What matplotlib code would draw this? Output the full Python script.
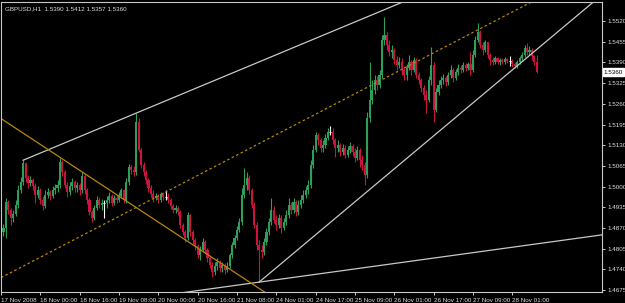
import numpy as np
import matplotlib
matplotlib.use("Agg")
import matplotlib.pyplot as plt

# GBPUSD H1, 17 Nov 2008 08:00 .. 28 Nov 2008
symbol_text = "GBPUSD,H1  1.5390 1.5412 1.5357 1.5360"
first_open = 1.4845

closes = [
    1.4857, 1.4870, 1.4952, 1.4926, 1.4901, 1.4914, 1.4942, 1.4989, 1.5014, 1.5074,
    1.5027, 1.5011, 1.5021, 1.5002, 1.4974, 1.4989, 1.4958, 1.4939, 1.4974, 1.4983,
    1.4970, 1.4989, 1.4995, 1.5005, 1.5077, 1.5046, 1.5005, 1.4983, 1.5002, 1.5014,
    1.4995, 1.5005, 1.4989, 1.5033, 1.4989, 1.4958, 1.4920, 1.4901, 1.4933, 1.4958,
    1.4942, 1.4948, 1.4948, 1.4958, 1.4970, 1.4948, 1.4964, 1.4958, 1.4970, 1.4989,
    1.4958, 1.5014, 1.5061, 1.5052, 1.5046, 1.5203, 1.5115, 1.5068, 1.5046, 1.5021,
    1.4995, 1.4977, 1.4964, 1.4970, 1.4958, 1.4977, 1.4967, 1.4967, 1.4958, 1.4939,
    1.4926, 1.4933, 1.4920, 1.4879, 1.4857, 1.4838, 1.4911, 1.4857, 1.4832, 1.4813,
    1.4785, 1.4801, 1.4826, 1.4801, 1.4776, 1.4754, 1.4732, 1.4751, 1.4763, 1.4744,
    1.4754, 1.4738, 1.4751, 1.4785, 1.4816, 1.4838, 1.4864, 1.4889, 1.4974, 1.5005,
    1.5027, 1.4989, 1.4942, 1.4879, 1.4816, 1.4801, 1.4794, 1.4826, 1.4857, 1.4889,
    1.4926, 1.4895, 1.4879, 1.4901, 1.4870, 1.4889, 1.4911, 1.4942, 1.4926, 1.4952,
    1.4920, 1.4942, 1.4958, 1.4974, 1.4989, 1.5005, 1.5068, 1.5115, 1.5162, 1.5146,
    1.5121, 1.5131, 1.5153, 1.5171, 1.5171, 1.5146, 1.5121, 1.5131, 1.5109, 1.5121,
    1.5099, 1.5115, 1.5127, 1.5109, 1.5090, 1.5115, 1.5083, 1.5068, 1.5036, 1.5215,
    1.5272, 1.5303, 1.5335, 1.5319, 1.5350, 1.5460, 1.5476, 1.5445, 1.5423, 1.5429,
    1.5398, 1.5382, 1.5391, 1.5366, 1.5350, 1.5372, 1.5391, 1.5366, 1.5398, 1.5350,
    1.5335, 1.5310, 1.5288, 1.5272, 1.5335, 1.5382, 1.5240, 1.5297, 1.5319, 1.5335,
    1.5341, 1.5328, 1.5350, 1.5366, 1.5341, 1.5360, 1.5372, 1.5366, 1.5382, 1.5372,
    1.5385, 1.5366, 1.5413, 1.5460, 1.5485, 1.5445, 1.5429, 1.5454, 1.5413, 1.5398,
    1.5391, 1.5404, 1.5391, 1.5398, 1.5391, 1.5401, 1.5394, 1.5394, 1.5385, 1.5379,
    1.5391, 1.5404, 1.5413, 1.5435, 1.5423, 1.5429, 1.5410, 1.5390, 1.5360,
]
highs = [
    1.4870, 1.4882, 1.4964, 1.4958, 1.4933, 1.4926, 1.4958, 1.5005, 1.5030, 1.5083,
    1.5068, 1.5036, 1.5033, 1.5027, 1.5011, 1.5002, 1.4995, 1.4970, 1.4989, 1.4995,
    1.4989, 1.5002, 1.5008, 1.5021, 1.5090, 1.5083, 1.5052, 1.5014, 1.5014, 1.5027,
    1.5021, 1.5014, 1.5011, 1.5046, 1.5039, 1.4995, 1.4964, 1.4926, 1.4942, 1.4970,
    1.4967, 1.4961, 1.4958, 1.4970, 1.4983, 1.4977, 1.4974, 1.4974, 1.4983, 1.4995,
    1.4992, 1.5027, 1.5071, 1.5068, 1.5065, 1.5231, 1.5215, 1.5121, 1.5077, 1.5052,
    1.5027, 1.5005, 1.4989, 1.4980, 1.4977, 1.4983, 1.4983, 1.4989, 1.4980, 1.4964,
    1.4945, 1.4942, 1.4939, 1.4926, 1.4886, 1.4864, 1.4920, 1.4914, 1.4864, 1.4838,
    1.4820, 1.4813, 1.4838, 1.4832, 1.4807, 1.4782, 1.4763, 1.4763, 1.4776, 1.4769,
    1.4763, 1.4760, 1.4763, 1.4791, 1.4826, 1.4848, 1.4876, 1.4901, 1.4995, 1.5058,
    1.5046, 1.5036, 1.4995, 1.4952, 1.4889, 1.4832, 1.4816, 1.4838, 1.4870, 1.4901,
    1.4964, 1.4939, 1.4911, 1.4914, 1.4911, 1.4901, 1.4926, 1.4964, 1.4952, 1.4964,
    1.4958, 1.4958, 1.4974, 1.4989, 1.5002, 1.5021, 1.5083, 1.5131, 1.5171, 1.5168,
    1.5153, 1.5146, 1.5165, 1.5184, 1.5190, 1.5184, 1.5153, 1.5146, 1.5137, 1.5134,
    1.5131, 1.5127, 1.5140, 1.5134, 1.5121, 1.5127, 1.5121, 1.5099, 1.5077, 1.5234,
    1.5391, 1.5335, 1.5350, 1.5347, 1.5366, 1.5476, 1.5533, 1.5485, 1.5460, 1.5445,
    1.5435, 1.5410, 1.5407, 1.5404, 1.5379, 1.5385, 1.5413, 1.5398, 1.5407, 1.5404,
    1.5360, 1.5341, 1.5319, 1.5303, 1.5347, 1.5438, 1.5391, 1.5310, 1.5335, 1.5347,
    1.5354, 1.5347, 1.5360, 1.5382, 1.5372, 1.5369, 1.5385, 1.5382, 1.5391, 1.5388,
    1.5391, 1.5423, 1.5429, 1.5473, 1.5514, 1.5492, 1.5454, 1.5460, 1.5454, 1.5420,
    1.5407, 1.5410, 1.5407, 1.5404, 1.5404, 1.5407, 1.5404, 1.5410, 1.5401, 1.5391,
    1.5398, 1.5410, 1.5423, 1.5445, 1.5451, 1.5442, 1.5435, 1.5413, 1.5412,
]
lows = [
    1.4832, 1.4845, 1.4838, 1.4914, 1.4879, 1.4889, 1.4908, 1.4933, 1.4980, 1.5005,
    1.5014, 1.4995, 1.5002, 1.4989, 1.4948, 1.4964, 1.4945, 1.4926, 1.4933, 1.4964,
    1.4958, 1.4964, 1.4977, 1.4983, 1.4995, 1.5033, 1.4995, 1.4967, 1.4974, 1.4989,
    1.4983, 1.4983, 1.4974, 1.4980, 1.4977, 1.4945, 1.4911, 1.4889, 1.4895, 1.4926,
    1.4933, 1.4926, 1.4901, 1.4933, 1.4948, 1.4939, 1.4942, 1.4948, 1.4952, 1.4964,
    1.4948, 1.4948, 1.5005, 1.5039, 1.5033, 1.5036, 1.5109, 1.5058, 1.5033, 1.5008,
    1.4983, 1.4967, 1.4952, 1.4958, 1.4948, 1.4952, 1.4958, 1.4958, 1.4948, 1.4930,
    1.4917, 1.4917, 1.4911, 1.4870, 1.4848, 1.4826, 1.4832, 1.4845, 1.4820, 1.4801,
    1.4776, 1.4769, 1.4794, 1.4788, 1.4763, 1.4744, 1.4716, 1.4722, 1.4738, 1.4732,
    1.4732, 1.4726, 1.4732, 1.4744, 1.4776, 1.4807, 1.4832, 1.4857, 1.4879, 1.4964,
    1.4989, 1.4977, 1.4933, 1.4870, 1.4801, 1.4700, 1.4776, 1.4785, 1.4816, 1.4848,
    1.4879, 1.4886, 1.4864, 1.4870, 1.4854, 1.4864, 1.4879, 1.4901, 1.4914, 1.4917,
    1.4908, 1.4911, 1.4933, 1.4948, 1.4964, 1.4977, 1.4995, 1.5058, 1.5109, 1.5131,
    1.5109, 1.5109, 1.5121, 1.5146, 1.5162, 1.5134, 1.5093, 1.5109, 1.5096, 1.5099,
    1.5090, 1.5093, 1.5105, 1.5096, 1.5077, 1.5083, 1.5061, 1.5052, 1.5005, 1.5027,
    1.5203, 1.5259, 1.5291, 1.5303, 1.5310, 1.5341, 1.5445, 1.5429, 1.5410, 1.5404,
    1.5385, 1.5366, 1.5372, 1.5350, 1.5335, 1.5335, 1.5366, 1.5350, 1.5360, 1.5341,
    1.5322, 1.5297, 1.5272, 1.5231, 1.5266, 1.5319, 1.5203, 1.5234, 1.5288, 1.5310,
    1.5322, 1.5316, 1.5319, 1.5341, 1.5328, 1.5335, 1.5350, 1.5357, 1.5360, 1.5363,
    1.5366, 1.5350, 1.5360, 1.5407, 1.5454, 1.5435, 1.5413, 1.5423, 1.5404, 1.5382,
    1.5382, 1.5385, 1.5385, 1.5382, 1.5385, 1.5385, 1.5388, 1.5379, 1.5376, 1.5372,
    1.5372, 1.5385, 1.5398, 1.5407, 1.5413, 1.5413, 1.5398, 1.5382, 1.5357,
]
opens = [first_open] + closes[:-1]

time_labels = ["17 Nov 2008", "18 Nov 00:00", "18 Nov 16:00", "19 Nov 08:00",
               "20 Nov 00:00", "20 Nov 16:00", "21 Nov 08:00", "24 Nov 01:00",
               "24 Nov 17:00", "25 Nov 09:00", "26 Nov 01:00", "26 Nov 17:00",
               "27 Nov 09:00", "28 Nov 01:00"]
bars_per_label = 16
price_ticks = [1.4675, 1.4740, 1.4805, 1.4870, 1.4935, 1.5000, 1.5065, 1.5130,
               1.5195, 1.5260, 1.5325, 1.5390, 1.5455, 1.5520]
last_price = 1.5360

# trendlines drawn on the chart: (bar, price) end points
channel_top = [(9, 1.5083), (170, 1.5601)]
channel_mid = [(0, 1.4714), (230, 1.5637)]
support_line = [(105, 1.4700), (245, 1.5606)]
long_support = [(74, 1.4667), (245, 1.4849)]
falling_line = [(-1, 1.5219), (108, 1.4665)]

bull = "#2e9e5b"
bear = "#c8143f"
grid_col = "#c8c8c8"
gold = "#b8860b"
fname = "Liberation Sans"
fs = 4.5

fig = plt.figure(figsize=(6.25, 3.03), dpi=100, facecolor="black")
ax = fig.add_axes([1 / 625, 11 / 303, 601 / 625, 290 / 303], facecolor="black")

o = np.array(opens)
c = np.array(closes)
h = np.maximum(np.array(highs), np.maximum(o, c))
l = np.minimum(np.array(lows), np.minimum(o, c))
x = np.arange(len(c))
up = c > o
dn = c < o
eq = c == o

ax.vlines(x[up], l[up], h[up], color=bull, lw=0.8)
ax.vlines(x[dn], l[dn], h[dn], color=bear, lw=0.8)
ax.vlines(x[eq], l[eq], h[eq], color="white", lw=0.8)
ax.bar(x[up], (c - o)[up], 0.85, bottom=o[up], color=bull, lw=0)
ax.bar(x[dn], (o - c)[dn], 0.85, bottom=c[dn], color=bear, lw=0)
ax.hlines(c[eq], x[eq] - 0.45, x[eq] + 0.45, color="white", lw=0.8)

for pts, col, ls in [(channel_top, grid_col, "-"), (support_line, grid_col, "-"),
                     (long_support, grid_col, "-"), (falling_line, gold, "-"),
                     (channel_mid, gold, (0, (2, 2)))]:
    ax.plot([p[0] for p in pts], [p[1] for p in pts], color=col, lw=0.9, ls=ls)

ax.set_xlim(0, 244.5)
ax.set_ylim(1.4669, 1.5580)

for s in ax.spines.values():
    s.set_color(grid_col)
    s.set_linewidth(0.8)

ax.yaxis.tick_right()
ax.set_yticks(price_ticks)
ax.set_yticklabels([f"{p:.4f}" for p in price_ticks])
ax.set_xticks([k * bars_per_label for k in range(len(time_labels))])
ax.set_xticklabels(time_labels, ha="left")
ax.tick_params(axis="both", colors=grid_col, length=2.5, width=0.7,
               labelsize=fs, labelcolor="#e0e0e0")
ax.tick_params(axis="y", pad=1.2)
ax.tick_params(axis="x", pad=1.6)
for t in ax.get_xticklabels() + ax.get_yticklabels():
    t.set_fontfamily(fname)

ax.text(1.003, last_price, f"{last_price:.4f}", transform=ax.get_yaxis_transform(),
        fontsize=fs, family=fname, color="black", va="center", ha="left",
        bbox=dict(boxstyle="square,pad=0.2", fc="white", ec="white"))

ax.text(0.006, 0.985, symbol_text, transform=ax.transAxes, fontsize=fs,
        family=fname, color="#e0e0e0", va="top", ha="left")

fig.savefig("out.png", dpi=100, facecolor="black")
